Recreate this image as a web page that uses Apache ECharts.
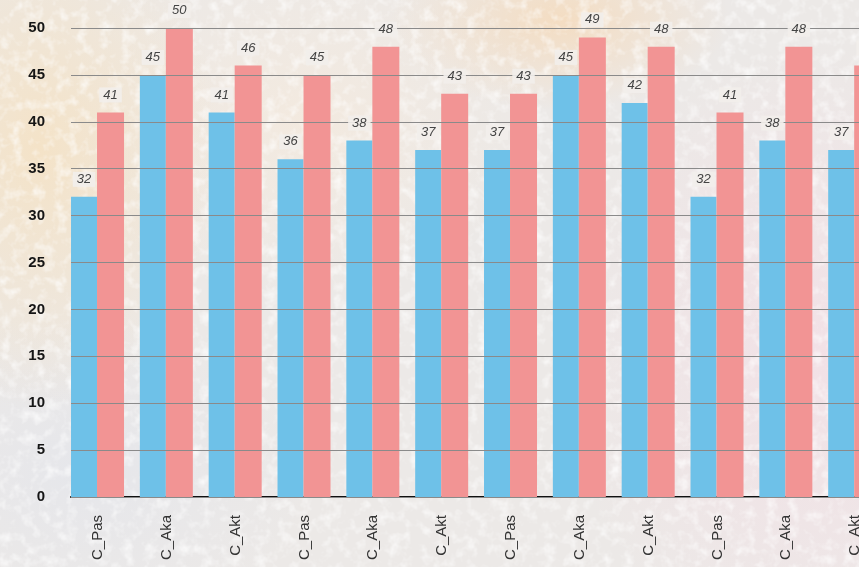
<!DOCTYPE html>
<html>
<head>
<meta charset="utf-8">
<script src="https://cdn.jsdelivr.net/npm/echarts@6/dist/echarts.min.js"></script>
<style>
  html, body { margin: 0; padding: 0; width: 859px; height: 567px; overflow: hidden; }
  body {
    background-color: #ece9e7;
    background-image:
      url("data:image/svg+xml;utf8,<svg xmlns='http://www.w3.org/2000/svg' width='859' height='567'><filter id='n'><feTurbulence type='fractalNoise' baseFrequency='0.09' numOctaves='3' seed='4'/><feColorMatrix values='0 0 0 0 1  0 0 0 0 1  0 0 0 0 1  0 0 0 1.6 -0.75'/></filter><rect width='100%' height='100%' filter='url(%23n)'/></svg>"),
      radial-gradient(ellipse 180px 260px at 40px 150px, rgba(245,226,196,0.9), rgba(245,226,196,0) 100%),
      radial-gradient(ellipse 170px 90px at 560px 20px, rgba(244,220,192,0.95), rgba(244,220,192,0) 100%),
      radial-gradient(ellipse 260px 320px at 820px 360px, rgba(243,224,230,0.9), rgba(243,224,230,0) 100%),
      radial-gradient(ellipse 240px 180px at 300px 120px, rgba(246,234,220,0.7), rgba(246,234,220,0) 100%),
      radial-gradient(ellipse 220px 160px at 90px 470px, rgba(228,230,236,0.8), rgba(228,230,236,0) 100%);
  }
  #chart { width: 897px; height: 567px; }
</style>
</head>
<body>
<div id="chart"></div>
<script>
  // data
  var categories = ['C_Pas', 'C_Aka', 'C_Akt', 'C_Pas', 'C_Aka', 'C_Akt',
                    'C_Pas', 'C_Aka', 'C_Akt', 'C_Pas', 'C_Aka', 'C_Akt'];
  var blueValues = [32, 45, 41, 36, 38, 37, 37, 45, 42, 32, 38, 37];
  var pinkValues = [41, 50, 46, 45, 48, 43, 43, 49, 48, 41, 48, 46];
  var yTicks = [0, 5, 10, 15, 20, 25, 30, 35, 40, 45, 50];

  var BLUE = '#6ec1e8';
  var PINK = '#f29494';
  var NARROW = "'Liberation Sans Narrow', 'Liberation Sans', Arial, sans-serif";

  var chart = echarts.init(document.getElementById('chart'));

  var valueLabel = {
    show: true,
    position: 'top',
    distance: 10,
    fontFamily: NARROW,
    fontStyle: 'italic',
    fontSize: 13,
    color: '#444',
    backgroundColor: 'rgba(242,238,235,0.9)',
    padding: [1, 4]
  };

  // bars: blue, pink, empty spacer so the pair sits at the left of its slot
  function barSeries(data, color, width, axisIdx, z, label) {
    return {
      type: 'bar',
      xAxisIndex: axisIdx,
      data: data,
      barWidth: width,
      barGap: 0,
      z: z,
      silent: true,
      itemStyle: { color: color },
      label: label || { show: false }
    };
  }

  var spacer = blueValues.map(function () { return 0; });

  chart.setOption({
    animation: false,
    grid: { left: 71, right: 0, top: 28, bottom: 70 },
    xAxis: [{
      type: 'category',
      data: categories,
      axisTick: { show: false },
      axisLine: { lineStyle: { color: '#111', width: 2 } },
      axisLabel: {
        rotate: 90,
        margin: 18,
        fontFamily: NARROW,
        fontSize: 15,
        color: '#333',
        verticalAlign: 'bottom',
        interval: 0
      }
    }, {
      type: 'category',
      data: categories,
      show: false
    }],
    yAxis: {
      type: 'value',
      min: 0,
      max: 50,
      interval: 5,
      z: 3,
      axisLine: { show: false },
      axisTick: { show: false },
      splitLine: { lineStyle: { color: '#8a8a8a', width: 1 } },
      axisLabel: {
        margin: 26,
        fontFamily: NARROW,
        fontWeight: 'bold',
        fontSize: 15,
        color: '#151515',
        formatter: function (v) { return yTicks.indexOf(v) >= 0 ? String(v) : ''; }
      }
    },
    series: [
      barSeries(blueValues, BLUE, 26, 0, 2),
      barSeries(pinkValues, PINK, 27, 0, 2),
      barSeries(spacer, 'transparent', 15.8, 0, 2),
      // label layer above the grid lines
      barSeries(blueValues, 'transparent', 26, 1, 5, valueLabel),
      barSeries(pinkValues, 'transparent', 27, 1, 5, valueLabel),
      barSeries(spacer, 'transparent', 15.8, 1, 5)
    ]
  });
</script>
</body>
</html>
